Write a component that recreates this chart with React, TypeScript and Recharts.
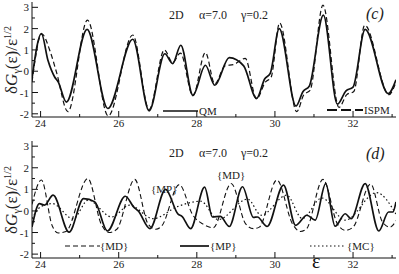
import React from 'react';
import { LineChart, Line, XAxis, YAxis } from 'recharts';

const SERIF = '"Liberation Serif", "DejaVu Serif", serif';
const INK = '#111';

// shared energy axis
const epsDomain = [23.78, 33.1];
const epsTicks = [24, 25, 26, 27, 28, 29, 30, 31, 32, 33];
const valTicks = [-2, -1.5, -1, -0.5, 0, 0.5, 1, 1.5, 2, 2.5, 3];

// panel (c): QM (solid) and ISPM (dashed), [eps, value]
const qm: number[][] = [
  [23.78, -0.35], [24.02, 1.77], [24.19, 0.5], [24.36, -0.27], [24.45, -0.5], [24.66, -1.45],
  [25.19, 1.96], [25.72, -1.75], [26.36, 1.5], [26.78, -1.86], [27.18, 0.82], [27.38, 0.36],
  [27.59, 1.22], [27.9, -1.13], [28.22, 0.28], [28.46, -0.66], [28.83, 0.64], [29.2, 0.25],
  [29.53, -1.28], [29.74, -0.35], [29.88, -0.1], [30.11, 2.0], [30.54, -1.64], [30.72, -0.95],
  [30.88, -0.7], [31.24, 2.63], [31.6, -1.55], [31.82, -0.92], [32.0, -0.75], [32.31, 1.96],
  [32.9, -1.05], [33.1, -0.4],
];
const ispm: number[][] = [
  [23.78, -0.5], [24.03, 1.75], [24.25, 0.9], [24.4, 0.0], [24.7, -1.9], [25.2, 2.4],
  [25.73, -2.1], [26.36, 1.7], [26.78, -1.8], [27.17, 1.0], [27.38, 0.4], [27.58, 0.85],
  [27.9, -1.15], [28.22, 0.88], [28.46, -0.6], [28.72, 0.25], [28.95, 0.32], [29.24, 0.6],
  [29.53, -1.3], [29.76, -0.5], [29.9, -0.3], [30.12, 2.27], [30.56, -1.9], [30.74, -1.1],
  [30.9, -0.9], [31.23, 3.1], [31.64, -1.7], [31.84, -1.1], [32.02, -0.95], [32.3, 2.16],
  [32.92, -1.1], [33.1, -0.5],
];

// panel (d): {MD} dashed, {MP} solid, {MC} dotted
const md: number[][] = [
  [23.78, 0.3], [24.02, 1.43], [24.3, -0.7], [24.45, -1.02], [24.65, -0.95], [25.21, 1.5],
  [25.55, -0.6], [25.75, -1.0], [25.95, -0.85], [26.41, 1.46], [26.75, -0.6], [26.95, -0.85],
  [27.1, -0.7], [27.55, 1.22], [27.9, -0.2], [28.15, -0.6], [28.42, -0.78], [28.88, 1.27],
  [29.25, -0.6], [29.45, -0.82], [29.6, -0.75], [30.05, 1.43], [30.45, -0.6], [30.65, -0.95],
  [30.8, -0.85], [31.23, 1.46], [31.6, -0.6], [31.8, -0.9], [32.0, -0.75], [32.45, 1.25],
  [32.75, -0.5], [32.95, -0.75], [33.1, -0.45],
];
const mp: number[][] = [
  [23.78, -0.74], [23.97, 0.34], [24.1, 0.27], [24.32, 0.73], [24.73, -0.98], [25.1, 0.57],
  [25.39, 0.42], [25.71, -0.93], [26.17, 0.68], [26.38, 0.19], [26.5, 0.0], [26.8, -0.82],
  [27.2, 1.0], [27.52, -0.15], [27.62, -0.25], [27.84, -0.82], [28.2, 1.1], [28.4, -0.28],
  [28.6, -0.25], [28.83, -0.72], [29.17, 1.12], [29.45, -0.3], [29.55, -0.28], [29.8, -0.72],
  [30.22, 1.2], [30.53, -0.67], [30.82, -0.2], [31.03, -0.43], [31.3, 1.27], [31.54, -0.71],
  [31.8, -0.13], [31.95, -0.36], [32.31, 1.27], [32.66, -0.93], [32.91, -0.05], [33.02, -0.05],
  [33.1, 0.42],
];
const mc: number[][] = [
  [23.78, -0.36], [24.0, 0.19], [24.3, 0.34], [24.83, -0.36], [25.22, 0.5], [25.82, -0.28],
  [26.28, 0.27], [26.88, -0.36], [27.5, 0.2], [28.1, 0.45], [28.55, -0.4], [29.3, 0.55],
  [29.65, -0.2], [30.3, 0.73], [30.7, -0.35], [31.2, 0.6], [31.8, -0.43], [32.6, 0.85],
  [33.1, -0.15],
];

const toRows = (pts: number[][]) => pts.map(([x, y]) => ({ x, y }));

const BottomTick = (props: any) => {
  const { x, y, payload } = props;
  const v = payload.value;
  const major = v % 2 === 0;
  return (
    <g>
      <line x1={x} x2={x} y1={y} y2={y - (major ? 6 : 3)} stroke={INK} />
      {major && (
        <text x={x} y={y + 10} textAnchor="middle" fontSize={11} fontFamily={SERIF} fill="#222">
          {v}
        </text>
      )}
    </g>
  );
};

const TopTick = (props: any) => {
  const { x, y, payload } = props;
  const major = payload.value % 2 === 0;
  return <line x1={x} x2={x} y1={y} y2={y + (major ? 6 : 3)} stroke={INK} />;
};

const LeftTick = (props: any) => {
  const { x, y, payload } = props;
  const v = payload.value;
  const major = Number.isInteger(v);
  return (
    <g>
      <line x1={x} x2={x + (major ? 6 : 3)} y1={y} y2={y} stroke={INK} />
      {major && (
        <text x={x - 3} y={y + 4} textAnchor="end" fontSize={11} fontFamily={SERIF} fill="#222">
          {v}
        </text>
      )}
    </g>
  );
};

const RightTick = (props: any) => {
  const { x, y, payload } = props;
  const major = Number.isInteger(payload.value);
  return <line x1={x} x2={x - (major ? 6 : 3)} y1={y} y2={y} stroke={INK} />;
};

type Series = { rows: { x: number; y: number }[]; dash?: string; width: number };

const Panel = ({ series, yDomain, top, xHeight }: { series: Series[]; yDomain: number[]; top: number; xHeight: number }) => (
  <LineChart width={399} height={137} margin={{ top, right: 3, bottom: 0, left: 0 }}>
    <XAxis
      xAxisId="b"
      dataKey="x"
      type="number"
      domain={epsDomain}
      allowDataOverflow
      ticks={epsTicks}
      interval={0}
      height={xHeight}
      tickSize={0}
      tickMargin={0}
      tick={<BottomTick />}
      axisLine={{ stroke: INK }}
    />
    <XAxis
      xAxisId="t"
      orientation="top"
      dataKey="x"
      type="number"
      domain={epsDomain}
      allowDataOverflow
      ticks={epsTicks}
      interval={0}
      height={0}
      tickSize={0}
      tickMargin={0}
      tick={<TopTick />}
      axisLine={{ stroke: INK }}
    />
    <YAxis
      yAxisId="l"
      type="number"
      domain={yDomain}
      allowDataOverflow
      ticks={valTicks}
      interval={0}
      width={32}
      tickSize={0}
      tickMargin={0}
      tick={<LeftTick />}
      axisLine={{ stroke: INK }}
    />
    <YAxis
      yAxisId="r"
      orientation="right"
      type="number"
      domain={yDomain}
      allowDataOverflow
      ticks={valTicks}
      interval={0}
      width={0}
      tickSize={0}
      tickMargin={0}
      tick={<RightTick />}
      axisLine={{ stroke: INK }}
    />
    {series.map((s, i) => (
      <Line
        key={i}
        xAxisId="b"
        yAxisId="l"
        data={s.rows}
        dataKey="y"
        type="monotone"
        stroke={INK}
        strokeWidth={s.width}
        strokeDasharray={s.dash}
        dot={false}
        activeDot={false}
        isAnimationActive={false}
      />
    ))}
  </LineChart>
);

const YLabel = ({ cx, cy }: { cx: number; cy: number }) => (
  <text transform={`translate(${cx},${cy}) rotate(-90)`} textAnchor="middle" fontSize={17} fontFamily={SERIF} fill="#222">
    δ<tspan fontStyle="italic">G</tspan>
    <tspan fontSize={10} dy={3}>γ</tspan>
    <tspan dy={-3}>(ε)/ε</tspan>
    <tspan fontSize={10} dy={-6}>1/2</tspan>
  </text>
);

const Params = ({ y }: { y: number }) => (
  <text y={y} fontSize={12} fontFamily={SERIF} fill="#222">
    <tspan x={169}>2D</tspan>
    <tspan x={199}>α=7.0</tspan>
    <tspan x={241}>γ=0.2</tspan>
  </text>
);

const txt = { fontSize: 11, fontFamily: SERIF, fill: '#222' } as const;

export default function App() {
  return (
    <div style={{ position: 'absolute', left: 0, top: 0, width: 399, height: 274, background: '#fff' }}>
      <div style={{ position: 'absolute', left: 0, top: 0 }}>
        <Panel
          top={2}
          xHeight={20}
          yDomain={[-2.15, 3.25]}
          series={[
            { rows: toRows(qm), width: 1.7 },
            { rows: toRows(ispm), width: 1.2, dash: '5 3' },
          ]}
        />
      </div>
      <div style={{ position: 'absolute', left: 0, top: 137 }}>
        <Panel
          top={4}
          xHeight={16}
          yDomain={[-2.18, 3.24]}
          series={[
            { rows: toRows(md), width: 1.1, dash: '5 3' },
            { rows: toRows(mc), width: 1.2, dash: '1.5 2.5' },
            { rows: toRows(mp), width: 1.7 },
          ]}
        />
      </div>
      <svg width={399} height={274} style={{ position: 'absolute', left: 0, top: 0, pointerEvents: 'none' }}>
        <YLabel cx={17} cy={60} />
        <YLabel cx={17} cy={200} />
        <Params y={19} />
        <Params y={157} />
        <text x={366} y={19} fontSize={16} fontStyle="italic" fontFamily={SERIF} fill="#222">(c)</text>
        <text x={366} y={159} fontSize={16} fontStyle="italic" fontFamily={SERIF} fill="#222">(d)</text>

        <line x1={163} x2={198} y1={111} y2={111} stroke={INK} strokeWidth={1.7} />
        <text x={199} y={115} {...txt}>QM</text>
        <line x1={327} x2={363} y1={110} y2={110} stroke={INK} strokeWidth={2} strokeDasharray="10 4" />
        <text x={364} y={114} {...txt}>ISPM</text>

        <line x1={65} x2={100} y1={246} y2={246} stroke={INK} strokeWidth={1.1} strokeDasharray="5 3" />
        <text x={100} y={250} {...txt}>{'{MD}'}</text>
        <line x1={180} x2={209} y1={246} y2={246} stroke={INK} strokeWidth={1.7} />
        <text x={210} y={250} {...txt}>{'{MP}'}</text>
        <line x1={310} x2={346} y1={246} y2={246} stroke={INK} strokeWidth={1.2} strokeDasharray="1.5 2.5" />
        <text x={347} y={250} {...txt}>{'{MC}'}</text>

        <text x={151} y={193} {...txt}>{'{MP}'}</text>
        <text x={217} y={179} {...txt}>{'{MD}'}</text>
        <text x={312} y={268} fontSize={20} fontFamily={SERIF} fill="#111">ε</text>
      </svg>
    </div>
  );
}
